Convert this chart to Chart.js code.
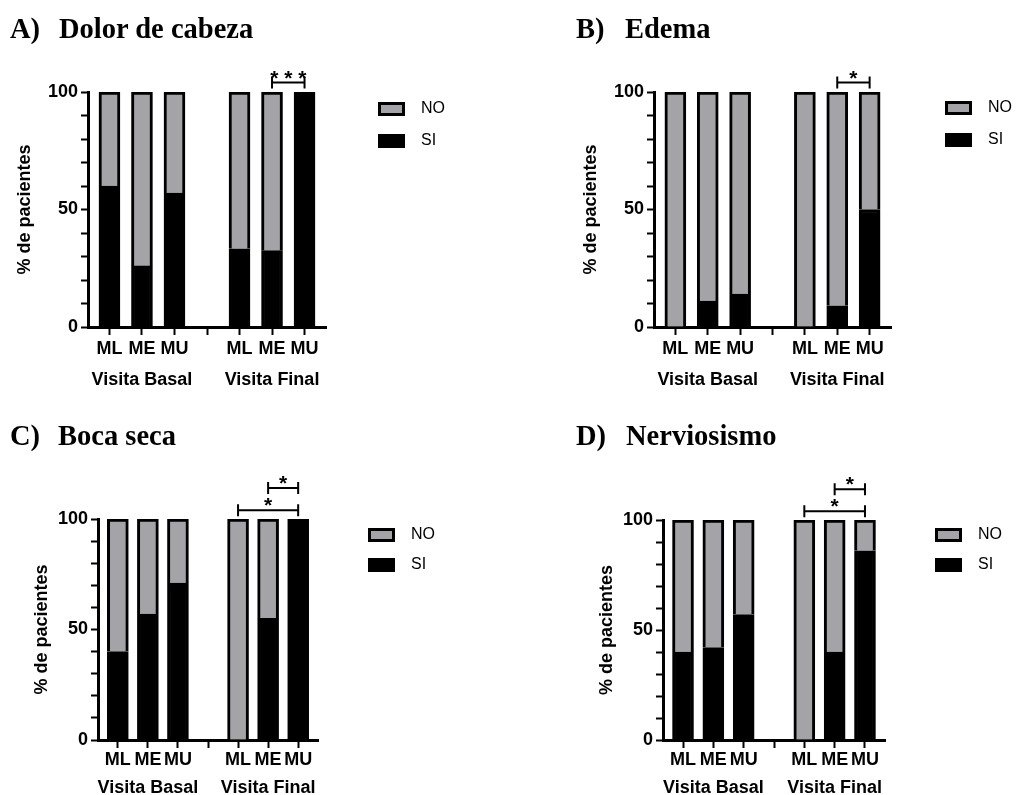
<!DOCTYPE html>
<html>
<head>
<meta charset="utf-8">
<script src="https://cdn.jsdelivr.net/npm/chart.js@4.4.1/dist/chart.umd.min.js"></script>
<style>
  body { margin: 0; background: #fff; width: 1016px; height: 795px; position: relative; overflow: hidden; }
  .panel { position: absolute; width: 508px; height: 400px; }
  .panel canvas { position: absolute; left: 0; top: 0; }
  .ttl { position: absolute; font: bold 28.5px "Liberation Serif", "Times New Roman", serif; line-height: 28px; white-space: nowrap; color: #000; }
</style>
</head>
<body>
<div class="panel" style="left:0;top:0">
  <canvas id="cA" width="508" height="400"></canvas>
  <span class="ttl" style="left:10px;top:15px">A)</span><span class="ttl" style="left:59px;top:15px">Dolor de cabeza</span>
</div>
<div class="panel" style="left:508px;top:0">
  <canvas id="cB" width="508" height="400"></canvas>
  <span class="ttl" style="left:68px;top:15px">B)</span><span class="ttl" style="left:117px;top:15px">Edema</span>
</div>
<div class="panel" style="left:0;top:400px">
  <canvas id="cC" width="508" height="400"></canvas>
  <span class="ttl" style="left:10px;top:22px">C)</span><span class="ttl" style="left:58px;top:22px">Boca seca</span>
</div>
<div class="panel" style="left:508px;top:400px">
  <canvas id="cD" width="508" height="400"></canvas>
  <span class="ttl" style="left:68px;top:22px">D)</span><span class="ttl" style="left:118px;top:22px">Nerviosismo</span>
</div>

<script>
var categories = ['ML', 'ME', 'MU', '', 'ML', 'ME', 'MU'];
var groupLabels = ['Visita Basal', 'Visita Final'];
var groupCenters = [1, 5];
var seriesNames = ['SI', 'NO'];
var yLabelled = [0, 50, 100];

// % de pacientes, one value per category (null = gap between visits)
var dolorSI = [60, 26, 57, null, 33.3, 32.5, 100];
var dolorNO = [40, 74, 43, null, 66.7, 67.5, 0];
var edemaSI = [0, 11, 14, null, 0, 9, 50];
var edemaNO = [100, 89, 86, null, 100, 91, 50];
var bocaSI = [40, 57, 71, null, 0, 55, 100];
var bocaNO = [60, 43, 29, null, 100, 45, 0];
var nervSI = [40, 42, 57, null, 0, 40, 86];
var nervNO = [60, 58, 43, null, 100, 60, 14];

// significance: [from category, to category, stars, level]
var dolorSig = [[5, 6, '***', 0]];
var edemaSig = [[5, 6, '*', 0]];
var bocaSig = [[4, 6, '*', 0], [5, 6, '*', 1]];
var nervSig = [[4, 6, '*', 0], [5, 6, '*', 1]];

var SANS = '"Liberation Sans", Arial, Helvetica, sans-serif';
var GRAY = '#a3a3a8';
Chart.defaults.font.family = SANS;
Chart.defaults.color = '#000';

function points(vals) {
    var out = [];
    categories.forEach(function (c, i) {
        if (vals[i] !== null) out.push({x: i, y: vals[i]});
    });
    return out;
}

function extras(p) {
    return {
        id: 'extras',
        afterDraw: function (chart) {
            var ctx = chart.ctx, xs = chart.scales.x, ys = chart.scales.y, area = chart.chartArea;
            ctx.save();
            ctx.fillStyle = '#000';
            ctx.strokeStyle = '#000';

            // visit labels under each group
            ctx.font = 'bold 18px ' + SANS;
            ctx.textAlign = 'center';
            ctx.textBaseline = 'middle';
            groupLabels.forEach(function (g, i) {
                ctx.fillText(g, xs.getPixelForValue(groupCenters[i]), area.bottom + p.groupDy);
            });

            // significance brackets
            ctx.lineWidth = 2;
            ctx.font = 'bold 21px ' + SANS;
            ctx.textBaseline = 'alphabetic';
            p.sig.forEach(function (s) {
                var x1 = xs.getPixelForValue(s[0]), x2 = xs.getPixelForValue(s[1]);
                var y = ys.getPixelForValue(104 + s[3] * 10);
                ctx.beginPath();
                ctx.moveTo(x1, y); ctx.lineTo(x2, y);
                ctx.moveTo(x1, y - 6); ctx.lineTo(x1, y + 6);
                ctx.moveTo(x2, y - 6); ctx.lineTo(x2, y + 6);
                ctx.stroke();
                ctx.fillText(s[2].split('').join(' '), (x1 + x2) / 2, y + 2);
            });

            // legend (NO on top, SI below)
            var ds = chart.data.datasets;
            ctx.font = '16px ' + SANS;
            ctx.textAlign = 'left';
            ctx.textBaseline = 'middle';
            [1, 0].forEach(function (k, row) {
                var bx = area.right + p.legDx, by = area.top + p.legDy[row] - 7;
                ctx.fillStyle = ds[k].backgroundColor;
                ctx.fillRect(bx, by, 27, 14);
                ctx.lineWidth = 3;
                ctx.strokeStyle = '#000';
                ctx.strokeRect(bx + 1.5, by + 1.5, 24, 11);
                ctx.fillStyle = '#000';
                ctx.fillText(ds[k].label, bx + 43, by + 7);
            });
            ctx.restore();
        }
    };
}

function makeChart(p) {
    var ctx = document.getElementById(p.id).getContext('2d');
    return new Chart(ctx, {
        type: 'bar',
        data: {
            datasets: [{
                label: seriesNames[0],
                data: points(p.si),
                backgroundColor: '#000',
                borderColor: '#000',
                borderWidth: 3,
                barThickness: 21
            }, {
                label: seriesNames[1],
                data: points(p.no),
                backgroundColor: GRAY,
                borderColor: '#000',
                borderWidth: 3,
                barThickness: 21
            }]
        },
        options: {
            responsive: false,
            animation: false,
            devicePixelRatio: 1,
            layout: {padding: {left: p.padL, top: p.padT, right: p.padR, bottom: 0}},
            plugins: {legend: {display: false}, tooltip: {enabled: false}},
            scales: {
                x: {
                    type: 'linear',
                    stacked: true,
                    offset: false,
                    bounds: 'data',
                    min: -0.66,
                    max: 6.66,
                    afterFit: function (s) { s.height = p.xH; },
                    afterBuildTicks: function (s) {
                        s.ticks = categories.map(function (c, i) { return {value: i}; });
                    },
                    border: {color: '#000', width: 3},
                    grid: {offset: false, drawOnChartArea: false, tickLength: 8, tickWidth: 2, tickColor: '#000'},
                    ticks: {
                        autoSkip: false,
                        maxRotation: 0,
                        padding: p.tickPad,
                        color: '#000',
                        font: {size: 18, weight: 'bold', lineHeight: 1.2},
                        callback: function (v) { return categories[v]; }
                    }
                },
                y: {
                    stacked: true,
                    min: 0,
                    max: 100,
                    afterFit: function (s) { s.width = p.yW; },
                    border: {color: '#000', width: 3},
                    grid: {drawOnChartArea: false, tickLength: 7, tickWidth: 2, tickColor: '#000'},
                    ticks: {
                        stepSize: 10,
                        autoSkip: false,
                        padding: 3,
                        color: '#000',
                        font: {size: 18, weight: 'bold', lineHeight: 1.2},
                        callback: function (v) { return yLabelled.indexOf(v) >= 0 ? String(v) : ''; }
                    },
                    title: {
                        display: true,
                        text: '% de pacientes',
                        color: '#000',
                        font: {size: 18, weight: 'bold', lineHeight: 1.2},
                        padding: {top: 2, bottom: 0}
                    }
                }
            }
        },
        plugins: [extras(p)]
    });
}

makeChart({id: 'cA', si: dolorSI, no: dolorNO, sig: dolorSig,
    padL: 12, padT: 92, padR: 182, yW: 76, xH: 73, tickPad: 3, groupDy: 53, legDx: 52, legDy: [17, 49]});
makeChart({id: 'cB', si: edemaSI, no: edemaNO, sig: edemaSig,
    padL: 70, padT: 92, padR: 125, yW: 76, xH: 73, tickPad: 3, groupDy: 53, legDx: 54, legDy: [16, 48]});
makeChart({id: 'cC', si: bocaSI, no: bocaNO, sig: bocaSig,
    padL: 29, padT: 119, padR: 190, yW: 69, xH: 60, tickPad: 1, groupDy: 48, legDx: 50, legDy: [16, 46]});
makeChart({id: 'cD', si: nervSI, no: nervNO, sig: nervSig,
    padL: 86, padT: 120, padR: 131, yW: 69, xH: 60, tickPad: 1, groupDy: 48, legDx: 50, legDy: [15, 45]});
</script>
</body>
</html>
